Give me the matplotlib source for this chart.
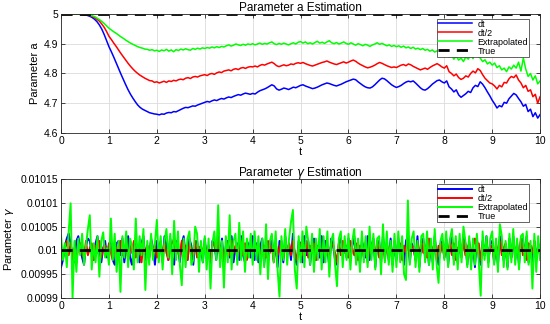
import matplotlib
matplotlib.use("Agg")
import matplotlib.pyplot as plt
import numpy as np
from matplotlib.ticker import FuncFormatter, MultipleLocator

plt.rcParams["font.family"] = ["Liberation Sans", "DejaVu Sans"]
plt.rcParams["mathtext.fontset"] = "dejavusans"

# ---- top panel: parameter a (t step 0.05) ----
t_a = np.linspace(0.0, 10.0, 201)
a_true = 5.0

a_dt = [
    5.000, 5.000, 5.000, 5.000, 5.000, 5.000, 5.000, 4.999, 4.999, 4.998, 4.997, 4.995, 4.992, 4.988, 4.982, 4.974, 4.963, 4.949, 4.931, 4.910,
    4.890, 4.873, 4.855, 4.836, 4.817, 4.798, 4.780, 4.762, 4.745, 4.730, 4.717, 4.705, 4.694, 4.686, 4.680, 4.676, 4.672, 4.668, 4.666, 4.664,
    4.663, 4.661, 4.664, 4.663, 4.667, 4.669, 4.668, 4.672, 4.671, 4.675, 4.679, 4.683, 4.686, 4.685, 4.688, 4.691, 4.690, 4.694, 4.697, 4.700,
    4.703, 4.706, 4.704, 4.708, 4.711, 4.709, 4.713, 4.716, 4.714, 4.718, 4.721, 4.719, 4.723, 4.726, 4.729, 4.727, 4.731, 4.734, 4.732, 4.730,
    4.733, 4.731, 4.737, 4.742, 4.745, 4.748, 4.752, 4.757, 4.762, 4.758, 4.748, 4.744, 4.747, 4.751, 4.749, 4.746, 4.750, 4.754, 4.752, 4.756,
    4.760, 4.762, 4.758, 4.755, 4.752, 4.749, 4.751, 4.754, 4.758, 4.762, 4.765, 4.768, 4.766, 4.763, 4.760, 4.758, 4.761, 4.764, 4.768, 4.772,
    4.775, 4.778, 4.781, 4.779, 4.772, 4.766, 4.760, 4.755, 4.752, 4.751, 4.755, 4.762, 4.770, 4.778, 4.784, 4.782, 4.776, 4.769, 4.762, 4.757,
    4.753, 4.756, 4.760, 4.766, 4.771, 4.774, 4.772, 4.775, 4.768, 4.760, 4.752, 4.746, 4.744, 4.749, 4.756, 4.764, 4.770, 4.776, 4.778, 4.772,
    4.768, 4.775, 4.755, 4.748, 4.738, 4.745, 4.728, 4.720, 4.726, 4.732, 4.740, 4.736, 4.752, 4.760, 4.756, 4.772, 4.764, 4.752, 4.738, 4.725,
    4.710, 4.698, 4.684, 4.692, 4.688, 4.703, 4.700, 4.715, 4.724, 4.733, 4.728, 4.716, 4.705, 4.690, 4.696, 4.672, 4.680, 4.655, 4.668, 4.650, 4.662,
]

a_dt2 = [
    5.000, 5.000, 5.000, 5.000, 5.000, 5.000, 5.000, 4.999, 4.999, 4.998, 4.998, 4.997, 4.995, 4.992, 4.988, 4.982, 4.976, 4.966, 4.955, 4.941,
    4.925, 4.914, 4.902, 4.891, 4.879, 4.867, 4.856, 4.845, 4.834, 4.824, 4.815, 4.807, 4.800, 4.794, 4.789, 4.784, 4.780, 4.776, 4.775, 4.770,
    4.772, 4.768, 4.771, 4.774, 4.770, 4.775, 4.773, 4.777, 4.775, 4.779, 4.781, 4.779, 4.784, 4.786, 4.783, 4.788, 4.790, 4.788, 4.792, 4.794,
    4.796, 4.793, 4.798, 4.800, 4.797, 4.802, 4.805, 4.803, 4.808, 4.810, 4.812, 4.809, 4.814, 4.816, 4.813, 4.818, 4.820, 4.817, 4.821, 4.823,
    4.822, 4.825, 4.822, 4.827, 4.830, 4.828, 4.832, 4.835, 4.838, 4.833, 4.826, 4.823, 4.826, 4.829, 4.826, 4.828, 4.832, 4.830, 4.834, 4.836,
    4.834, 4.837, 4.833, 4.830, 4.827, 4.825, 4.828, 4.831, 4.834, 4.837, 4.839, 4.842, 4.838, 4.835, 4.832, 4.830, 4.833, 4.836, 4.839, 4.835,
    4.838, 4.842, 4.845, 4.841, 4.835, 4.830, 4.826, 4.822, 4.819, 4.821, 4.824, 4.828, 4.833, 4.837, 4.834, 4.830, 4.826, 4.823, 4.820, 4.822,
    4.820, 4.824, 4.828, 4.830, 4.826, 4.832, 4.829, 4.824, 4.820, 4.816, 4.812, 4.815, 4.818, 4.814, 4.820, 4.825, 4.829, 4.833, 4.828, 4.822,
    4.818, 4.826, 4.806, 4.800, 4.792, 4.798, 4.786, 4.780, 4.784, 4.792, 4.788, 4.800, 4.808, 4.802, 4.816, 4.810, 4.796, 4.784, 4.776, 4.768,
    4.765, 4.758, 4.748, 4.760, 4.755, 4.770, 4.768, 4.782, 4.790, 4.786, 4.795, 4.778, 4.768, 4.752, 4.760, 4.740, 4.745, 4.722, 4.730, 4.700, 4.722,
]

a_extrap = [
    5.000, 5.000, 5.000, 5.000, 5.000, 5.000, 5.000, 5.000, 4.999, 4.999, 4.998, 4.997, 4.996, 4.994, 4.991, 4.986, 4.981, 4.975, 4.968, 4.960,
    4.952, 4.946, 4.940, 4.935, 4.929, 4.923, 4.918, 4.912, 4.907, 4.902, 4.898, 4.894, 4.890, 4.887, 4.885, 4.882, 4.881, 4.878, 4.880, 4.876,
    4.878, 4.874, 4.879, 4.876, 4.881, 4.875, 4.879, 4.873, 4.880, 4.877, 4.882, 4.879, 4.883, 4.880, 4.878, 4.884, 4.881, 4.885, 4.882, 4.886,
    4.884, 4.887, 4.885, 4.889, 4.886, 4.890, 4.887, 4.891, 4.889, 4.893, 4.896, 4.892, 4.895, 4.899, 4.896, 4.894, 4.898, 4.895, 4.899, 4.897,
    4.900, 4.896, 4.899, 4.902, 4.898, 4.901, 4.899, 4.903, 4.906, 4.900, 4.897, 4.901, 4.898, 4.902, 4.899, 4.896, 4.900, 4.903, 4.899, 4.905,
    4.907, 4.902, 4.906, 4.900, 4.903, 4.899, 4.904, 4.908, 4.902, 4.905, 4.901, 4.906, 4.910, 4.903, 4.900, 4.904, 4.899, 4.902, 4.906, 4.901,
    4.898, 4.903, 4.899, 4.895, 4.900, 4.897, 4.893, 4.898, 4.895, 4.891, 4.896, 4.899, 4.903, 4.898, 4.901, 4.897, 4.893, 4.896, 4.891, 4.894,
    4.890, 4.893, 4.888, 4.892, 4.886, 4.889, 4.884, 4.888, 4.882, 4.885, 4.880, 4.884, 4.878, 4.881, 4.875, 4.879, 4.872, 4.876, 4.868, 4.873,
    4.862, 4.870, 4.855, 4.862, 4.848, 4.858, 4.845, 4.852, 4.840, 4.856, 4.848, 4.862, 4.850, 4.868, 4.858, 4.852, 4.840, 4.846, 4.832, 4.838,
    4.828, 4.835, 4.820, 4.826, 4.812, 4.818, 4.806, 4.822, 4.815, 4.828, 4.818, 4.838, 4.808, 4.852, 4.815, 4.790, 4.800, 4.778, 4.792, 4.765, 4.775,
]

# ---- bottom panel: parameter gamma (t step 0.04), deviations from 0.01 in units of 1e-6 ----
t_g = np.linspace(0.0, 10.0, 251)
g_true = 0.01

g_dt_dev = [
    -35, -20, 10, 25, 36, 15, -10, -25, 20, 30, 5, -15, -30, 10, 25, 20, -5, -20, 15, 30, -10, -25, 5, 20, -15,
    10, 25, -20, -30, 15, 20, -10, 25, -25, 5, 30, -15, -30, 10, 20, -5, -25, 15, 30, -20, 10, -15, 25, 5, -30,
    20, -10, 15, -25, 30, 10, -20, 25, -15, -30, 20, 5, -25, 15, 30, -10, -20, 25, 10, -30, 15, 20, -15, 5, -25,
    25, -15, 10, -35, 20, 15, -20, 30, -10, 25, -30, 10, 20, -15, 30, -25, 5, 15, -20, 30, -10, -25, 20, 10, -15,
    30, -20, 15, -25, 10, 25, -30, 20, -15, 5, 30, -20, 15, -35, 20, 10, -25, 30, -10, 15, -20, 35, -15, -30, 20,
    15, -25, 30, -10, 20, -30, 15, 25, -20, 10, -15, 30, -25, 20, 5, -35, 25, 10, -20, -30, 15, 25, -10, 20, -15,
    25, -20, 10, 30, -25, 15, -30, 20, 5, -15, 30, -20, 10, 25, -35, 15, 20, -25, 30, -10, 15, -20, 25, -30, 10,
    -20, 25, -15, 10, -30, 20, 30, -25, 15, 5, -20, 30, -35, 15, 25, -15, 20, -30, 10, -25, 30, -10, -30, 15, 20,
    -15, 25, -30, 10, 30, -20, 15, -25, 20, -10, 30, 15, -30, 20, -20, 10, -35, 25, -15, -30, 20, -10, 30, -25, 15,
    20, -25, 10, -30, 30, 15, -20, 5, -35, 25, -15, 30, -20, 15, -30, 20, 25, -10, 30, -25, 10, -30, 20, -20, 15, -10,
]

g_dt2_dev = [
    10, -15, 5, 20, -10, 15, -20, 5, -25, 10, 15, -5, -15, 20, -10, 5, 15, -20, 10, -5, 20, -15, 5, 10, -10,
    15, -5, -20, 10, 5, -15, 20, -10, 5, 15, -20, 10, -5, 20, -15, 5, 10, -25, 15, -5, 10, -15, 20, -5, 10,
    -15, 5, 20, -10, 15, -5, -20, 10, 15, 25, -10, 5, -15, 20, -5, 10, -20, 15, 5, -10, 20, -15, 5, 10, -5,
    15, -10, 5, -20, 10, 15, -5, 25, -15, 10, -20, 5, 15, -10, 20, -5, 10, -15, 5, 20, -10, 15, -20, 5, 10,
    -10, 20, -5, 15, -20, 5, 10, -15, 20, -5, 10, -25, 15, -10, 5, 20, -15, 10, -5, 15, -10, 20, -5, -20, 10,
    15, -10, 5, 20, -15, 10, -5, 15, -20, 5, 10, -15, 20, -10, 5, -20, 15, 10, -5, -25, 15, -10, 20, -5, 10,
    -15, 20, 5, -10, 15, -20, 10, 5, -15, 20, -25, 10, -5, 15, -10, 20, -15, 5, 10, -20, 15, -5, 10, -15, 20,
    -10, 5, 15, -20, 10, -5, 20, -15, 10, 5, -20, 15, -10, 20, -5, 10, -15, 25, -10, 5, 15, -20, 10, -5, 15,
    -15, 10, -5, 20, -10, 15, -20, 5, 10, -15, 20, -10, 5, 15, -25, 10, 25, -5, 15, -20, 10, -10, 20, -15, 5,
    10, -20, 15, -5, 20, -10, 5, 15, -20, 10, -15, 20, -5, 10, -15, 25, -10, 5, -20, 15, 10, -5, 20, -15, 5, 10,
]

g_extrap_dev = [
    30, -20, 15, -35, 40, 99, -100, 20, -45, 25, -10, 35, -30, 10, 45, 74, -40, 15, -25, 30, -55, 20, 38, -15, 5,
    -30, 67, -20, 35, -45, 20, -87, 30, -15, 40, -35, 25, 10, -40, 67, -25, 30, -10, 45, -83, 20, -30, 35, -20, 15,
    64, -25, 30, -40, 20, 45, -15, 35, -50, 62, -20, 40, -30, -73, 25, -35, 25, 40, -30, -20, 50, 35, -45, 20, -25,
    30, -40, 25, -80, 15, 40, -20, 95, -35, 20, -78, 30, -25, 74, -40, 20, 35, -30, 58, -20, 40, -45, 25, -15, 35,
    -30, 40, -20, 30, -50, 25, -35, 55, -60, 20, 35, -25, 40, -40, -97, 30, -20, 45, -30, 25, 60, 85, -40, -80, 30,
    -25, 40, -35, 50, 20, -30, 35, -45, 25, -20, 45, -40, 30, -25, 40, -55, 20, 35, -30, -75, 25, 40, -35, 30, -20,
    35, -40, 20, 45, -30, 25, -45, 40, -25, 30, -35, 50, -20, 35, -40, 25, 30, -50, 55, -25, 40, -30, 20, -45, 35,
    -35, 40, -25, 30, -50, -62, 105, -30, 25, 40, -35, 20, -45, 30, 35, -25, 40, -30, 25, -40, 45, -30, -68, 20, 35,
    -20, 40, -35, 25, 45, -30, 30, -40, 35, -25, 50, 20, -35, 30, -40, 25, -30, 35, -25, -95, 40, -20, 30, -35, 25,
    40, -30, 25, -45, 55, 30, -35, 20, -40, 35, -25, 45, -30, 25, -40, 30, 35, -25, 40, -30, 20, -80, 35, -45, 30, -20,
]

labels = ["dt", "dt/2", "Extrapolated", "True"]
colors = ["#0000ff", "#ff0000", "#00ff00", "#000000"]


def style_axes(ax):
    ax.set_xlim(0, 10)
    ax.xaxis.set_major_locator(MultipleLocator(1))
    ax.grid(True, color="#dcdcdc", linewidth=0.6)
    ax.set_axisbelow(True)
    ax.tick_params(direction="in", length=3, width=0.5, labelsize=7.5,
                   top=True, right=True, pad=2)
    for s in ax.spines.values():
        s.set_linewidth(0.6)
        s.set_color("#262626")
    ax.set_xlabel("t", fontsize=8, labelpad=1)


def add_legend(ax):
    leg = ax.legend(loc="upper right", bbox_to_anchor=(0.977, 0.96), fontsize=6.5,
                    handlelength=3.8, borderpad=0.1, labelspacing=0.0,
                    handletextpad=0.6, borderaxespad=0, fancybox=False,
                    framealpha=1.0, edgecolor="#262626")
    leg.get_frame().set_linewidth(0.5)


fig = plt.figure(figsize=(5.5, 3.24), dpi=100, facecolor="white")
ax1 = fig.add_axes([0.111, 0.5895, 0.871, 0.3675])
ax2 = fig.add_axes([0.111, 0.080, 0.871, 0.3675])

lw = 1.1
ax1.plot(t_a, a_dt, color=colors[0], lw=lw, label=labels[0])
ax1.plot(t_a, a_dt2, color=colors[1], lw=lw, label=labels[1])
ax1.plot(t_a, a_extrap, color=colors[2], lw=lw, label=labels[2])
ax1.plot([0, 10], [a_true, a_true], color=colors[3], lw=2.0, ls=(0, (4, 2.6)), label=labels[3])
style_axes(ax1)
ax1.set_ylim(4.6, 5.0)
ax1.yaxis.set_major_locator(MultipleLocator(0.1))
ax1.yaxis.set_major_formatter(FuncFormatter(lambda v, p: f"{v:g}"))
ax1.set_ylabel("Parameter a", fontsize=8, labelpad=3)
ax1.set_title("Parameter a Estimation", fontsize=8.5, pad=2)
add_legend(ax1)

g_dt = g_true + np.array(g_dt_dev) * 1e-6
g_dt2 = g_true + np.array(g_dt2_dev) * 1e-6
g_ex = g_true + np.array(g_extrap_dev) * 1e-6
lw_g = 1.4
ax2.plot(t_g, g_dt, color=colors[0], lw=lw_g, label=labels[0])
ax2.plot(t_g, g_dt2, color=colors[1], lw=lw_g, label=labels[1])
ax2.plot(t_g, g_ex, color=colors[2], lw=lw_g, label=labels[2])
ax2.plot([0, 10], [g_true, g_true], color=colors[3], lw=2.0, ls=(0, (4, 2.6)), label=labels[3])
style_axes(ax2)
ax2.set_ylim(0.0099, 0.01015)
ax2.yaxis.set_major_locator(MultipleLocator(0.00005))
ax2.yaxis.set_major_formatter(FuncFormatter(lambda v, p: f"{v:.6g}"))
ax2.yaxis.get_offset_text().set_visible(False)
ax2.set_ylabel(r"Parameter $\gamma$", fontsize=8, labelpad=3)
ax2.set_title(r"Parameter $\gamma$ Estimation", fontsize=8.5, pad=2)
add_legend(ax2)

fig.savefig("out.png", dpi=100, facecolor="white")
